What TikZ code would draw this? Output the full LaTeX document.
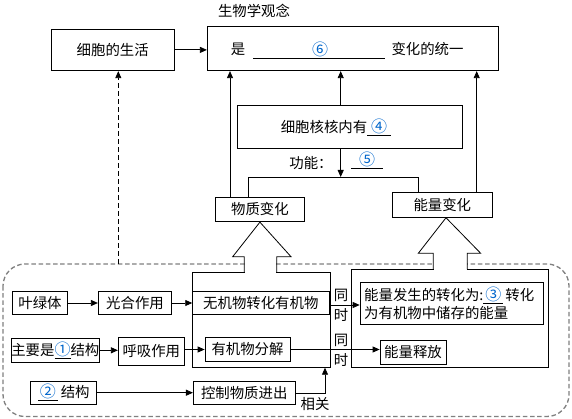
\documentclass[tikz,border=0pt]{standalone}
\usepackage{fontspec}
\setmainfont{Noto Sans CJK SC}
\usetikzlibrary{arrows.meta}
\definecolor{numblue}{RGB}{0,102,204}
\definecolor{dashgray}{RGB}{128,128,128}
\newcommand{\nb}[1]{\textcolor{numblue}{\fontsize{16}{20}\selectfont #1}}
\begin{document}
\begin{tikzpicture}[x=1pt,y=-1pt,
  every node/.style={font=\fontsize{14.4}{20}\selectfont, inner sep=0pt},
  box/.style={draw, line width=0.8pt, inner sep=0pt},
  ln/.style={line width=0.8pt},
  arr/.style={line width=0.8pt, -{Triangle[length=7pt,width=6pt]}},
]
\useasboundingbox[fill=white] (0,0) rectangle (572,419);

% ---- top part
\node (title) at (254,11) {生物学观念};
\node[box, minimum width=123.3pt, minimum height=41.7pt] (life) at (112.7,49.9) {细胞的生活};
\node[box, minimum width=291pt, minimum height=44pt] (unity) at (352.8,48.7) {};
\node (shi) at (238,49) {是};
\node (six) at (320,49) {\nb{⑥}};
\coordinate (ulA) at (253.3,58.3);
\coordinate (ulB) at (385,58.3);
\draw[ln] (ulA) -- (ulB);
\node (change) at (427.5,49) {变化的统一};
\draw[arr] (life.east) -- (life.east -| unity.west);

\node[box, minimum width=225.4pt, minimum height=43.3pt] (nucleus) at (350,126.7) {};
\node (nuctext) at (336,127) {细胞核核内有\underline{\kern4pt\nb{④}\kern4pt}};
\node (func) at (311,163) {功能：};
\node (five) at (367,160) {\underline{\kern8pt\nb{⑤}\kern8pt}};

\node[box, minimum width=88.3pt, minimum height=24.7pt] (matter) at (259.9,209.4) {物质变化};
\node[box, minimum width=99.3pt, minimum height=25.3pt] (energy) at (442.3,204.7) {能量变化};

\coordinate (split) at (340.7,177);
\coordinate (jL) at (248,177);
\coordinate (jR) at (418,177);
\draw[arr] (nucleus.south -| split) -- (split);
\draw[ln] (matter.north -| jL) -- (jL) -- (jR) -- (energy.north -| jR);

\coordinate (uL) at (230,0);
\coordinate (uR) at (476.7,0);
\draw[arr] (matter.north -| uL) -- (unity.south -| uL);
\draw[arr] (nucleus.north -| split) -- (unity.south -| split);
\draw[arr] (energy.north -| uR) -- (unity.south -| uR);

% ---- bottom dashed region
\draw[dashgray, line width=1.3pt, dash pattern=on 4.5pt off 2.7pt, rounded corners=22pt] (3,264) rectangle (569,416.5);
\coordinate (dashtop) at (118.3,264);
\draw[line width=0.8pt, dash pattern=on 5pt off 3pt, -{Triangle[length=7pt,width=6pt]}] (dashtop) -- (life.south -| dashtop);

% left big box with block arrow
\node[box, minimum width=137.7pt, minimum height=94.6pt] (matbox) at (261.15,320) {};
\fill[white] (244.7,255) rectangle (276.3,273.3);
\draw[ln, line join=miter] (244.3,272.7) -- (244.3,256.7) -- (232.7,256.7) -- (matter.south) -- (291,256.7) -- (276.7,256.7) -- (276.7,272.7);

% right big box with block arrow
\node[box, minimum width=196.6pt, minimum height=98pt] (engbox) at (450,318.3) {};
\coordinate (apexR) at (446,0);
\fill[white] (433.7,252) rectangle (466.9,269.9);
\draw[ln, line join=miter] (433.3,269.3) -- (433.3,253.3) -- (418.3,253.3) -- (energy.south -| apexR) -- (480.7,253.3) -- (467.3,253.3) -- (467.3,269.3);

% row 1
\node[box, minimum width=55.4pt, minimum height=22.6pt] (ye) at (40,303) {叶绿体};
\node[box, minimum width=73.4pt, minimum height=22.6pt] (guang) at (135,303) {光合作用};
\node[box, minimum width=136.3pt, minimum height=22.6pt] (wuji) at (260.8,303) {无机物转化有机物};
\node[box, minimum width=183.3pt, minimum height=41.7pt, text width=175pt, align=left, font=\fontsize{14.4}{18.5}\selectfont] (conv) at (451.7,303.2) {能量发生的转化为:\underline{\kern2pt\nb{③}\kern2pt}\kern2pt转化\\为有机物中储存的能量};
\draw[arr] (ye.east) -- (guang.west);
\draw[arr] (guang.east) -- (wuji.west);
\draw[arr] ([yshift=-2pt]wuji.east) -- ([yshift=-2pt]wuji.east -| conv.west);
\node[align=center] (t1) at (341,305) {同\\时};

% row 2
\node[box, minimum width=87.3pt, minimum height=24pt] (zhuyao) at (55.3,350.3) {主要是\underline{\nb{①}}结构};
\node[box, minimum width=66pt, minimum height=27.7pt] (huxi) at (151.3,351.2) {呼吸作用};
\node[box, minimum width=85pt, minimum height=24.4pt] (youji) at (247.5,349.5) {有机物分解};
\node[box, minimum width=66pt, minimum height=23.3pt] (shifang) at (413,352.3) {能量释放};
\draw[arr] (zhuyao.east) -- (zhuyao.east -| huxi.west);
\draw[arr] (huxi.east |- youji.west) -- (youji.west);
\draw[arr] (youji.east) -- (youji.east -| shifang.west);
\node[align=center] (t2) at (341,350) {同\\时};

% row 3
\node[box, minimum width=66pt, minimum height=23.3pt] (jg2) at (63.7,392.7) {\underline{\kern2pt\nb{②}\kern2pt}\kern3pt结构};
\node[box, minimum width=101.7pt, minimum height=22.6pt] (kz) at (244.2,393) {控制物质进出};
\draw[arr] (jg2.east) -- (jg2.east -| kz.west);
\coordinate (rel) at (325,393);
\draw[arr] (kz.east) -- (kz.east -| rel) -- (matbox.south -| rel);
\node (xg) at (315,404.5) {相关};
\end{tikzpicture}
\end{document}
